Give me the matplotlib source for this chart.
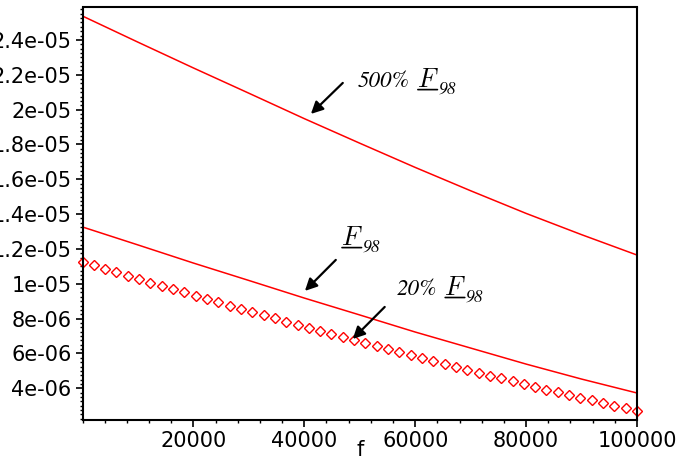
import matplotlib
matplotlib.use('Agg')
import matplotlib.pyplot as plt
from matplotlib.ticker import MultipleLocator
import numpy as np

# curvas (valores en 1e-6)
f_line = [0, 10000, 20000, 30000, 40000, 50000, 60000, 70000, 80000, 90000, 100000]
F98_500 = [25.37, 23.87, 22.39, 20.94, 19.48, 18.07, 16.68, 15.34, 14.04, 12.82, 11.65]
F98 = [13.26, 12.23, 11.19, 10.19, 9.18, 8.21, 7.23, 6.31, 5.39, 4.53, 3.73]

# 50 puntos (numpoints de Maple) para la serie 20%
f_pts = np.linspace(0, 100000, 50)
F98_20 = [11.25, 11.05, 10.85, 10.66, 10.46, 10.27, 10.07, 9.88, 9.69, 9.50,
          9.31, 9.12, 8.93, 8.75, 8.56, 8.38, 8.19, 8.01, 7.83, 7.65,
          7.47, 7.29, 7.11, 6.94, 6.76, 6.59, 6.41, 6.24, 6.07, 5.90,
          5.73, 5.56, 5.39, 5.23, 5.06, 4.90, 4.73, 4.57, 4.41, 4.25,
          4.09, 3.93, 3.77, 3.62, 3.46, 3.31, 3.15, 3.00, 2.85, 2.70]

x_ticks = [20000, 40000, 60000, 80000, 100000]
x_labels = ['20000', '40000', '60000', '80000', '100000']
y_ticks = [4e-06, 6e-06, 8e-06, 1e-05, 1.2e-05, 1.4e-05, 1.6e-05, 1.8e-05, 2e-05, 2.2e-05, 2.4e-05]
y_labels = ['4e-06', '6e-06', '8e-06', '1e-05', '1.2e-05', '1.4e-05', '1.6e-05',
            '1.8e-05', '2e-05', '2.2e-05', '2.4e-05']

W, H = 689, 461
fig = plt.figure(figsize=(W / 100, H / 100), dpi=100)
ax = fig.add_axes([82.5 / W, (H - 420) / H, 554.5 / W, 412.5 / H])

rojo = '#ff0000'
ax.plot(f_line, np.array(F98_500) * 1e-6, color=rojo, lw=1.1)
ax.plot(f_line, np.array(F98) * 1e-6, color=rojo, lw=1.1)
ax.plot(f_pts, np.array(F98_20) * 1e-6, ls='none', marker='D', ms=4.6,
        mfc='white', mec=rojo, mew=1.0, clip_on=False)

ax.set_xlim(0, 100000)
ax.set_ylim(2.18e-06, 25.86e-06)

ax.set_xticks(x_ticks)
ax.set_xticklabels(x_labels)
ax.set_yticks(y_ticks)
ax.set_yticklabels(y_labels)
ax.xaxis.set_minor_locator(MultipleLocator(4000))
ax.yaxis.set_minor_locator(MultipleLocator(2.5e-07))

ax.tick_params(which='major', direction='out', length=5, width=1.2, labelsize=15, pad=3)
ax.tick_params(which='minor', direction='out', length=2.5, width=1.0)
for lab in ax.get_xticklabels() + ax.get_yticklabels():
    lab.set_fontfamily('DejaVu Sans')
for s in ax.spines.values():
    s.set_linewidth(1.5)

ax.set_xlabel('f', fontsize=15, labelpad=-8)

# etiquetas con F subrayado
def etiqueta(fx, fy, prefijo):
    if prefijo:
        ref = ax.text(fx, fy, prefijo, transform=ax.transAxes, fontsize=16.5,
                      family='STIXGeneral', style='italic', va='baseline', ha='left')
        tF = ax.annotate(r'$F$', xy=(1, fy), xycoords=(ref, 'axes fraction'),
                         xytext=(5, 0), textcoords='offset points',
                         fontsize=19, math_fontfamily='cm', va='baseline', ha='left')
    else:
        tF = ax.text(fx, fy, r'$F$', transform=ax.transAxes, fontsize=19,
                     math_fontfamily='cm', va='baseline', ha='left')
    ax.annotate('98', xy=(1, fy), xycoords=(tF, 'axes fraction'),
                xytext=(0, -5), textcoords='offset points',
                fontsize=12.5, family='STIXGeneral', style='italic', va='baseline', ha='left')
    d = 2.5 / 412.5
    ax.annotate('', xy=(0.95, fy - d), xycoords=(tF, 'axes fraction'),
                xytext=(0.05, fy - d), textcoords=(tF, 'axes fraction'),
                arrowprops=dict(arrowstyle='-', lw=1.2, color='black', shrinkA=0, shrinkB=0))

etiqueta(0.497, 0.807, '500%')
etiqueta(0.466, 0.424, '')
etiqueta(0.567, 0.303, '20%')

flecha = dict(arrowstyle='-|>', color='black', lw=1.6, mutation_scale=18, shrinkA=0, shrinkB=0)
ax.annotate('', xy=(41190, 19.75e-6), xytext=(46940, 21.53e-6), arrowprops=flecha)
ax.annotate('', xy=(40110, 9.59e-6), xytext=(45680, 11.37e-6), arrowprops=flecha)
ax.annotate('', xy=(48740, 6.83e-6), xytext=(54500, 8.67e-6), arrowprops=flecha)

fig.savefig('out.png', dpi=100)
